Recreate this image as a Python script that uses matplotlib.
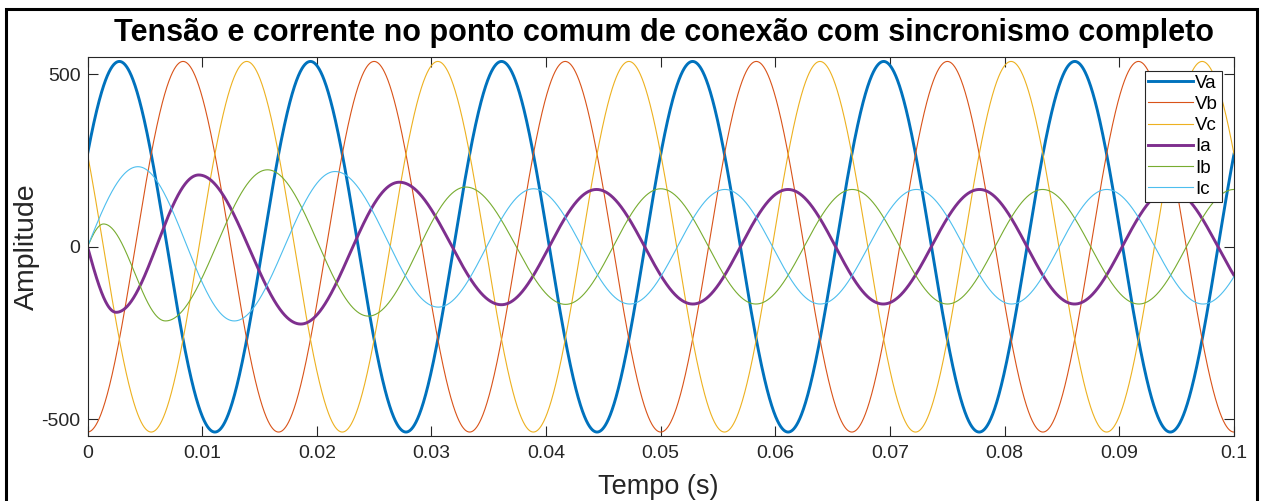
import matplotlib.pyplot as plt
from matplotlib.patches import Rectangle
import numpy as np

plt.rcParams['font.family'] = ['Liberation Sans', 'DejaVu Sans']
plt.rcParams['axes.unicode_minus'] = False

# tensões: amplitude (V), frequência (Hz) e fase (graus)
v_amp = 537
freq = 60
v_phase = [30, -90, 150]

# correntes: instantes (s) e valores dos picos
ia_t = [0.0025, 0.0097, 0.0186, 0.0272, 0.0361, 0.0444, 0.0528, 0.0611, 0.0694, 0.0778, 0.0861, 0.0944, 0.1028]
ia_v = [-190, 208, -224, 187, -168, 166, -166, 166, -166, 166, -166, 166, -166]
ib_t = [0.0014, 0.0068, 0.0157, 0.0245, 0.0330, 0.0417, 0.0500, 0.0583, 0.0667, 0.0750, 0.0833, 0.0917, 0.1000, 0.1083]
ib_v = [66, -215, 223, -201, 173, -167, 168, -166, 166, -166, 166, -166, 166, -166]
ic_t = [0.0044, 0.0128, 0.0216, 0.0306, 0.0389, 0.0473, 0.0556, 0.0639, 0.0723, 0.0806, 0.0889, 0.0973, 0.1056]
ic_v = [232, -215, 218, -175, 168, -166, 166, -166, 166, -166, 166, -166, 166]

labels = ['Va', 'Vb', 'Vc', 'Ia', 'Ib', 'Ic']
colors = ['#0072BD', '#D95319', '#EDB120', '#7E2F8E', '#77AC30', '#4DBEEE']
widths = [2.1, 0.8, 0.8, 2.1, 0.8, 0.8]

t = np.linspace(0, 0.1, 4001)


def peaks_to_wave(pt, pv, t):
    # meia-onda cossenoidal entre picos consecutivos
    kt = np.r_[0.0, pt]
    kv = np.r_[0.0, pv]
    y = np.zeros_like(t)
    for i in range(len(kt) - 1):
        t0, t1, v0, v1 = kt[i], kt[i + 1], kv[i], kv[i + 1]
        m = (t >= t0) & (t <= t1)
        f = (t[m] - t0) / (t1 - t0)
        if i == 0:
            y[m] = v1 * np.sin(np.pi / 2 * f)
        else:
            y[m] = (v0 + v1) / 2 + (v0 - v1) / 2 * np.cos(np.pi * f)
    return y


waves = [v_amp * np.sin(2 * np.pi * freq * t + np.radians(p)) for p in v_phase]
waves += [peaks_to_wave(ia_t, ia_v, t), peaks_to_wave(ib_t, ib_v, t), peaks_to_wave(ic_t, ic_v, t)]

fig = plt.figure(figsize=(12.63, 5.01), dpi=100)
ax = fig.add_axes([87.5 / 1263, 1 - 435.5 / 501, (1234 - 87.5) / 1263, (435.5 - 57.3) / 501])

for y, lab, c, lw in zip(waves, labels, colors, widths):
    ax.plot(t, y, color=c, lw=lw, label=lab)

ax.set_xlim(0, 0.1)
ax.set_ylim(-547, 549)
ax.set_xticks(np.arange(0, 0.1001, 0.01))
ax.set_xticklabels(['0', '0.01', '0.02', '0.03', '0.04', '0.05', '0.06', '0.07', '0.08', '0.09', '0.1'])
ax.set_yticks([-500, 0, 500])
ax.tick_params(direction='in', length=7, width=0.8, top=True, right=True,
               labelsize=14, colors='#262626')
ax.tick_params(axis='x', pad=7)
ax.tick_params(axis='y', pad=5)
for s in ax.spines.values():
    s.set_color('#262626')
    s.set_linewidth(0.8)

ax.set_xlabel('Tempo (s)', fontsize=19.5, color='#262626')
ax.set_ylabel('Amplitude', fontsize=20.5, color='#262626')
ax.xaxis.set_label_coords(0.498, (435.5 - 487) / 378.2)
ax.yaxis.set_label_coords((27 - 87.5) / 1146.5, 0.5)
ax.xaxis.label.set_va('center')
ax.yaxis.label.set_va('center')

fig.text(0.5255, 1 - 33 / 501, 'Tensão e corrente no ponto comum de conexão com sincronismo completo',
         ha='center', va='center', fontsize=22, fontweight='bold')

leg = ax.legend(loc='upper right', bbox_to_anchor=(0.9895, 0.9645), borderaxespad=0,
                fontsize=13.5, handlelength=2.4, handletextpad=0.1, labelspacing=0.22,
                borderpad=0.2, fancybox=False, framealpha=1, edgecolor='#262626')
leg.get_frame().set_linewidth(0.8)

fig.patches.append(Rectangle((6 / 1263, -0.05), 1251 / 1263, 1.05 - 9.5 / 501, transform=fig.transFigure,
                             fill=False, edgecolor='black', linewidth=2.2))

fig.savefig('out.png', dpi=100)
